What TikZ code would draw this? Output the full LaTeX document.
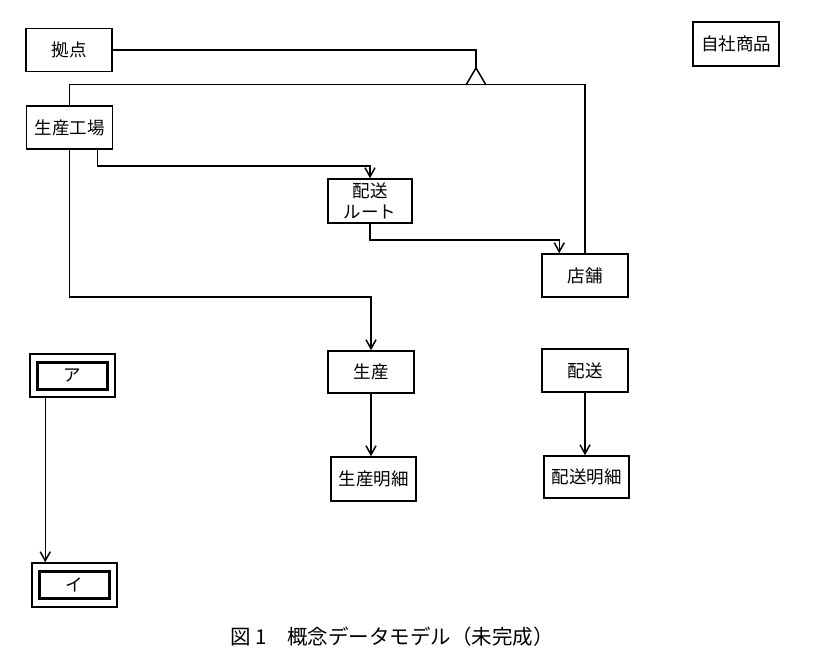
\documentclass[tikz,border=0pt]{standalone}
\usepackage{fontspec}
\newfontfamily\jp{Noto Sans CJK JP}
\usetikzlibrary{arrows.meta,calc}
\begin{document}
\begin{tikzpicture}[x=1pt,y=-1pt,
  ent/.style={draw,line width=1.5pt,minimum width=86pt,minimum height=43pt,inner sep=0pt,font=\jp\fontsize{17.5}{21}\selectfont,align=center},
  inner/.style={draw,line width=3pt,minimum width=70pt,minimum height=27pt,inner sep=0pt},
  conn/.style={line width=1.5pt},
  arr/.style={line width=1.5pt,-{Straight Barb[length=9pt,width=10pt,line width=1.5pt]}}]
\useasboundingbox (0,0) rectangle (834,665);
\node[ent] (kyoten) at (69,50) {拠点};
\node[ent] (kojo) at (69.5,127.5) {生産工場};
\node[ent,minimum width=84pt,minimum height=44pt] (route) at (370,201) {配送\\ルート};
\node[ent] (tenpo) at (585,275.5) {店舗};
\node[ent,minimum height=42pt] (seisan) at (371,372) {生産};
\node[ent,minimum width=85pt,minimum height=44pt] (smeisai) at (373.5,479) {生産明細};
\node[ent] (haiso) at (585,370.5) {配送};
\node[ent,minimum width=85pt,minimum height=42pt] (hmeisai) at (586.5,477) {配送明細};
\node[ent,minimum height=44pt] (jisha) at (736,44) {自社商品};
\node[ent,minimum width=85pt] (a) at (72.5,375.5) {};
\node[inner,font=\jp\fontsize{17.5}{21}\selectfont] (ain) at (a.center) {ア};
\node[ent,minimum width=85pt,minimum height=44pt] (i) at (74.5,585) {};
\node[inner,font=\jp\fontsize{17.5}{21}\selectfont] (iin) at (i.center) {イ};
\coordinate (apex) at (476,68);
% supertype/subtype
\draw[conn] (kyoten.east) -| (apex);
\draw[conn,line join=miter] ($(apex)+(-10,17)$) -- (apex) -- ($(apex)+(10,17)$);
\draw[conn] (kojo.north) -- ++(0,-21) -| (tenpo.north);
% relationships
\draw[arr] ([xshift=-16pt]kojo.south east) -- ++(0,16) -| (route.north);
\draw[arr] (kojo.south) -- ++(0,147) -| (seisan.north);
\draw[arr] (route.south) -- ++(0,16) -| ([xshift=18pt]tenpo.north west);
\draw[arr] (seisan.south) -- (seisan.south |- smeisai.north);
\draw[arr] (haiso.south) -- (haiso.south |- hmeisai.north);
\draw[arr] ([xshift=16pt]a.south west) -- ([xshift=16pt]a.south west |- i.north);
\node[font=\jp\fontsize{20.5}{24}\selectfont,inner sep=0pt] (cap) at (392,637) {図 1\quad 概念データモデル（未完成）};
\end{tikzpicture}
\end{document}
